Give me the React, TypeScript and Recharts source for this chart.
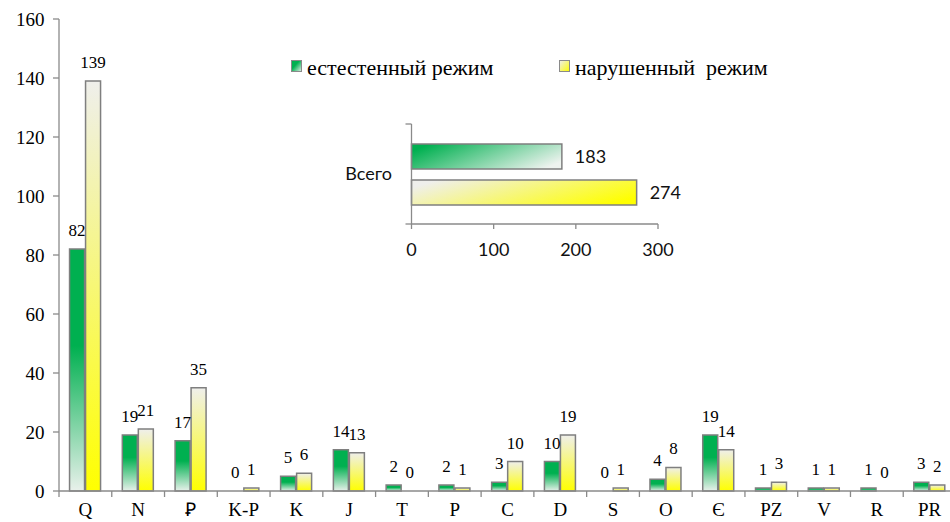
import React from 'react';
import { BarChart, Bar, XAxis, YAxis, LabelList, Legend, Cell } from 'recharts';

// Categories along the horizontal axis
const categories = ['Q', 'N', 'Ꝑ', 'K-P', 'K', 'J', 'T', 'P', 'C', 'D', 'S', 'O', 'Є', 'PZ', 'V', 'R', 'PR'];
// Counts per category
const naturalValues = [82, 19, 17, 0, 5, 14, 2, 2, 3, 10, 0, 4, 19, 1, 1, 1, 3];
const disturbedValues = [139, 21, 35, 1, 6, 13, 0, 1, 10, 19, 1, 8, 14, 3, 1, 0, 2];
// Series names
const seriesNames = ['естестенный режим', 'нарушенный  режим'];
// Main value axis ticks
const yTicks = [0, 20, 40, 60, 80, 100, 120, 140, 160];

// Totals (inset)
const totalCategory = ['Всего'];
const totalNatural = [183];
const totalDisturbed = [274];
const totalTicks = [0, 100, 200, 300];

const data = categories.map((c, i) => ({ name: c, nat: naturalValues[i], viol: disturbedValues[i] }));
const totals = totalCategory.map((c, i) => ({ name: c, nat: totalNatural[i], viol: totalDisturbed[i] }));

const SERIF = '"Liberation Serif", "Times New Roman", serif';
const SANS = 'Lato, "Open Sans", sans-serif';
const AXIS = '#8a8a8a';
const EDGE = '#7f7f7f';
const GREEN = '#00b050';
const YELLOW = '#ffff00';

const X_TICK_SIZE = 6;
const X_TICK_MARGIN = 6;

// Category tick: label plus boundary tick marks between categories
const CategoryTick = (props: any) => {
  const { x, y, payload, visibleTicksCount } = props;
  const half = payload && typeof payload.offset === 'number' ? payload.offset : 0;
  const axisY = y - X_TICK_MARGIN - X_TICK_SIZE;
  const isLast = payload.index === visibleTicksCount - 1;
  return (
    <g>
      <line x1={x - half} x2={x - half} y1={axisY} y2={axisY + X_TICK_SIZE} stroke={AXIS} strokeWidth={1.3} />
      {isLast && (
        <line x1={x + half} x2={x + half} y1={axisY} y2={axisY + X_TICK_SIZE} stroke={AXIS} strokeWidth={1.3} />
      )}
      <text x={x} y={y} dy="0.71em" textAnchor="middle" fontFamily={SERIF} fontSize={19} fill="#000">
        {payload.value}
      </text>
    </g>
  );
};

// Value tick on the main axis
const ValueTick = (props: any) => {
  const { x, y, payload } = props;
  return (
    <text x={x} y={y} dy="0.355em" textAnchor="end" fontFamily={SERIF} fontSize={19} fill="#000">
      {payload.value}
    </text>
  );
};

const Y_TICK_SIZE = 6;
const Y_TICK_MARGIN = 13.5;

// Inset category tick: label plus tick marks at the band edges
const TotalTick = (props: any) => {
  const { x, y, payload } = props;
  const half = payload && typeof payload.offset === 'number' ? payload.offset : 0;
  const axisX = x + Y_TICK_MARGIN + Y_TICK_SIZE;
  return (
    <g>
      <line x1={axisX - Y_TICK_SIZE} x2={axisX} y1={y - half} y2={y - half} stroke={AXIS} strokeWidth={1.3} />
      <line x1={axisX - Y_TICK_SIZE} x2={axisX} y1={y + half} y2={y + half} stroke={AXIS} strokeWidth={1.3} />
      <text x={x} y={y} dy="0.355em" textAnchor="end" fontFamily={SANS} fontSize={18} fill="#111">
        {payload.value}
      </text>
    </g>
  );
};

const TotalValueTick = (props: any) => {
  const { x, y, payload } = props;
  return (
    <text x={x} y={y} dy="0.71em" textAnchor="middle" fontFamily={SANS} fontSize={18} fill="#111">
      {payload.value}
    </text>
  );
};

const BarValueLabel = (props: any) => {
  const { x, y, width, value } = props;
  if (value === undefined || value === null) return null;
  return (
    <text x={Number(x) + Number(width) / 2} y={Number(y) - 13} textAnchor="middle" fontFamily={SERIF} fontSize={17} fill="#000">
      {value}
    </text>
  );
};

const TotalValueLabel = (props: any) => {
  const { x, y, width, height, value } = props;
  return (
    <text x={Number(x) + Number(width) + 13} y={Number(y) + Number(height) / 2} dy="0.355em" textAnchor="start" fontFamily={SANS} fontSize={18} fill="#111">
      {value}
    </text>
  );
};

const legendLeft = [0, 268];

const LegendContent = (props: any) => {
  const payload = props.payload || [];
  return (
    <svg width={480} height={30} style={{ display: 'block', overflow: 'visible' }}>
      <defs>
        <linearGradient id="swGreen" x1="0" y1="0" x2="1" y2="1">
          <stop offset="0" stopColor={GREEN} />
          <stop offset="0.4" stopColor={GREEN} />
          <stop offset="1" stopColor="#e8f0ea" />
        </linearGradient>
        <linearGradient id="swYellow" x1="0" y1="0" x2="1" y2="1">
          <stop offset="0" stopColor="#efefef" />
          <stop offset="1" stopColor={YELLOW} />
        </linearGradient>
      </defs>
      {payload.map((entry: any, i: number) => (
        <g key={i} transform={`translate(${legendLeft[i]},0)`}>
          <rect x={0.5} y={5.5} width={10} height={11} fill={i === 0 ? 'url(#swGreen)' : 'url(#swYellow)'} stroke="#8a8a8a" strokeWidth={1} />
          <text x={16} y={20} fontFamily={SERIF} fontSize={22} fill="#000" style={{ whiteSpace: 'pre' }} xmlSpace="preserve">
            {entry.value}
          </text>
        </g>
      ))}
    </svg>
  );
};

export default function App() {
  return (
    <div style={{ position: 'absolute', left: 0, top: 0, width: 950, height: 522, overflow: 'hidden', background: '#fff', fontFamily: SERIF }}>
      <BarChart
        width={960}
        height={522}
        data={data}
        margin={{ top: 19, right: 4, bottom: 0, left: 0 }}
        barCategoryGap="20%"
        barGap={1}
      >
        <defs>
          <linearGradient id="mainGreen" x1="0" y1="0" x2="0" y2="1">
            <stop offset="0" stopColor={GREEN} />
            <stop offset="0.4" stopColor={GREEN} />
            <stop offset="1" stopColor="#e9f1eb" />
          </linearGradient>
          <linearGradient id="mainYellow" x1="0" y1="0" x2="0" y2="1">
            <stop offset="0" stopColor="#efefec" />
            <stop offset="1" stopColor={YELLOW} />
          </linearGradient>
        </defs>
        <XAxis
          dataKey="name"
          height={31}
          axisLine={{ stroke: AXIS, strokeWidth: 1.3 }}
          tickLine={false}
          tickSize={X_TICK_SIZE}
          tickMargin={X_TICK_MARGIN}
          interval={0}
          tick={(p: any) => <CategoryTick {...p} />}
        />
        <YAxis
          width={59}
          domain={[0, 160]}
          ticks={yTicks}
          interval={0}
          axisLine={{ stroke: AXIS, strokeWidth: 1.3 }}
          tickLine={{ stroke: AXIS, strokeWidth: 1.3 }}
          tickSize={6}
          tickMargin={8.5}
          tick={(p: any) => <ValueTick {...p} />}
        />
        <Legend
          verticalAlign="middle"
          align="center"
          layout="horizontal"
          wrapperStyle={{ left: 291, top: 55, width: 480, height: 30 }}
          content={(p: any) => <LegendContent {...p} />}
        />
        <Bar dataKey="nat" name={seriesNames[0]} fill="url(#mainGreen)" stroke={EDGE} strokeWidth={1.5} minPointSize={0.01} isAnimationActive={false}>
          {naturalValues.map((v, i) => (
            <Cell key={i} stroke={v === 0 ? 'none' : EDGE} />
          ))}
          <LabelList dataKey="nat" content={(p: any) => <BarValueLabel {...p} />} />
        </Bar>
        <Bar dataKey="viol" name={seriesNames[1]} fill="url(#mainYellow)" stroke={EDGE} strokeWidth={1.5} minPointSize={0.01} isAnimationActive={false}>
          {disturbedValues.map((v, i) => (
            <Cell key={i} stroke={v === 0 ? 'none' : EDGE} />
          ))}
          <LabelList dataKey="viol" content={(p: any) => <BarValueLabel {...p} />} />
        </Bar>
      </BarChart>

      <div style={{ position: 'absolute', left: 320, top: 100 }}>
        <BarChart
          width={400}
          height={180}
          data={totals}
          layout="vertical"
          margin={{ top: 24, right: 62, bottom: 0, left: 0 }}
          barCategoryGap={20}
          barGap={11}
        >
          <defs>
            <linearGradient id="insetGreen" x1="0" y1="0.3" x2="1" y2="0.7">
              <stop offset="0" stopColor={GREEN} />
              <stop offset="1" stopColor="#eef3ef" />
            </linearGradient>
            <linearGradient id="insetYellow" x1="0" y1="0.3" x2="1" y2="0.7">
              <stop offset="0" stopColor="#efefec" />
              <stop offset="1" stopColor={YELLOW} />
            </linearGradient>
          </defs>
          <XAxis
            type="number"
            domain={[0, 300]}
            ticks={totalTicks}
            interval={0}
            height={56}
            axisLine={{ stroke: AXIS, strokeWidth: 1.3 }}
            tickLine={{ stroke: AXIS, strokeWidth: 1.3 }}
            tickSize={5}
            tickMargin={14}
            tick={(p: any) => <TotalValueTick {...p} />}
          />
          <YAxis
            type="category"
            dataKey="name"
            width={91.5}
            axisLine={{ stroke: AXIS, strokeWidth: 1.3 }}
            tickLine={false}
            tickSize={Y_TICK_SIZE}
            tickMargin={Y_TICK_MARGIN}
            tick={(p: any) => <TotalTick {...p} />}
          />
          <Bar dataKey="nat" fill="url(#insetGreen)" stroke={EDGE} strokeWidth={1.5} isAnimationActive={false}>
            <LabelList dataKey="nat" content={(p: any) => <TotalValueLabel {...p} />} />
          </Bar>
          <Bar dataKey="viol" fill="url(#insetYellow)" stroke={EDGE} strokeWidth={1.5} isAnimationActive={false}>
            <LabelList dataKey="viol" content={(p: any) => <TotalValueLabel {...p} />} />
          </Bar>
        </BarChart>
      </div>
    </div>
  );
}
